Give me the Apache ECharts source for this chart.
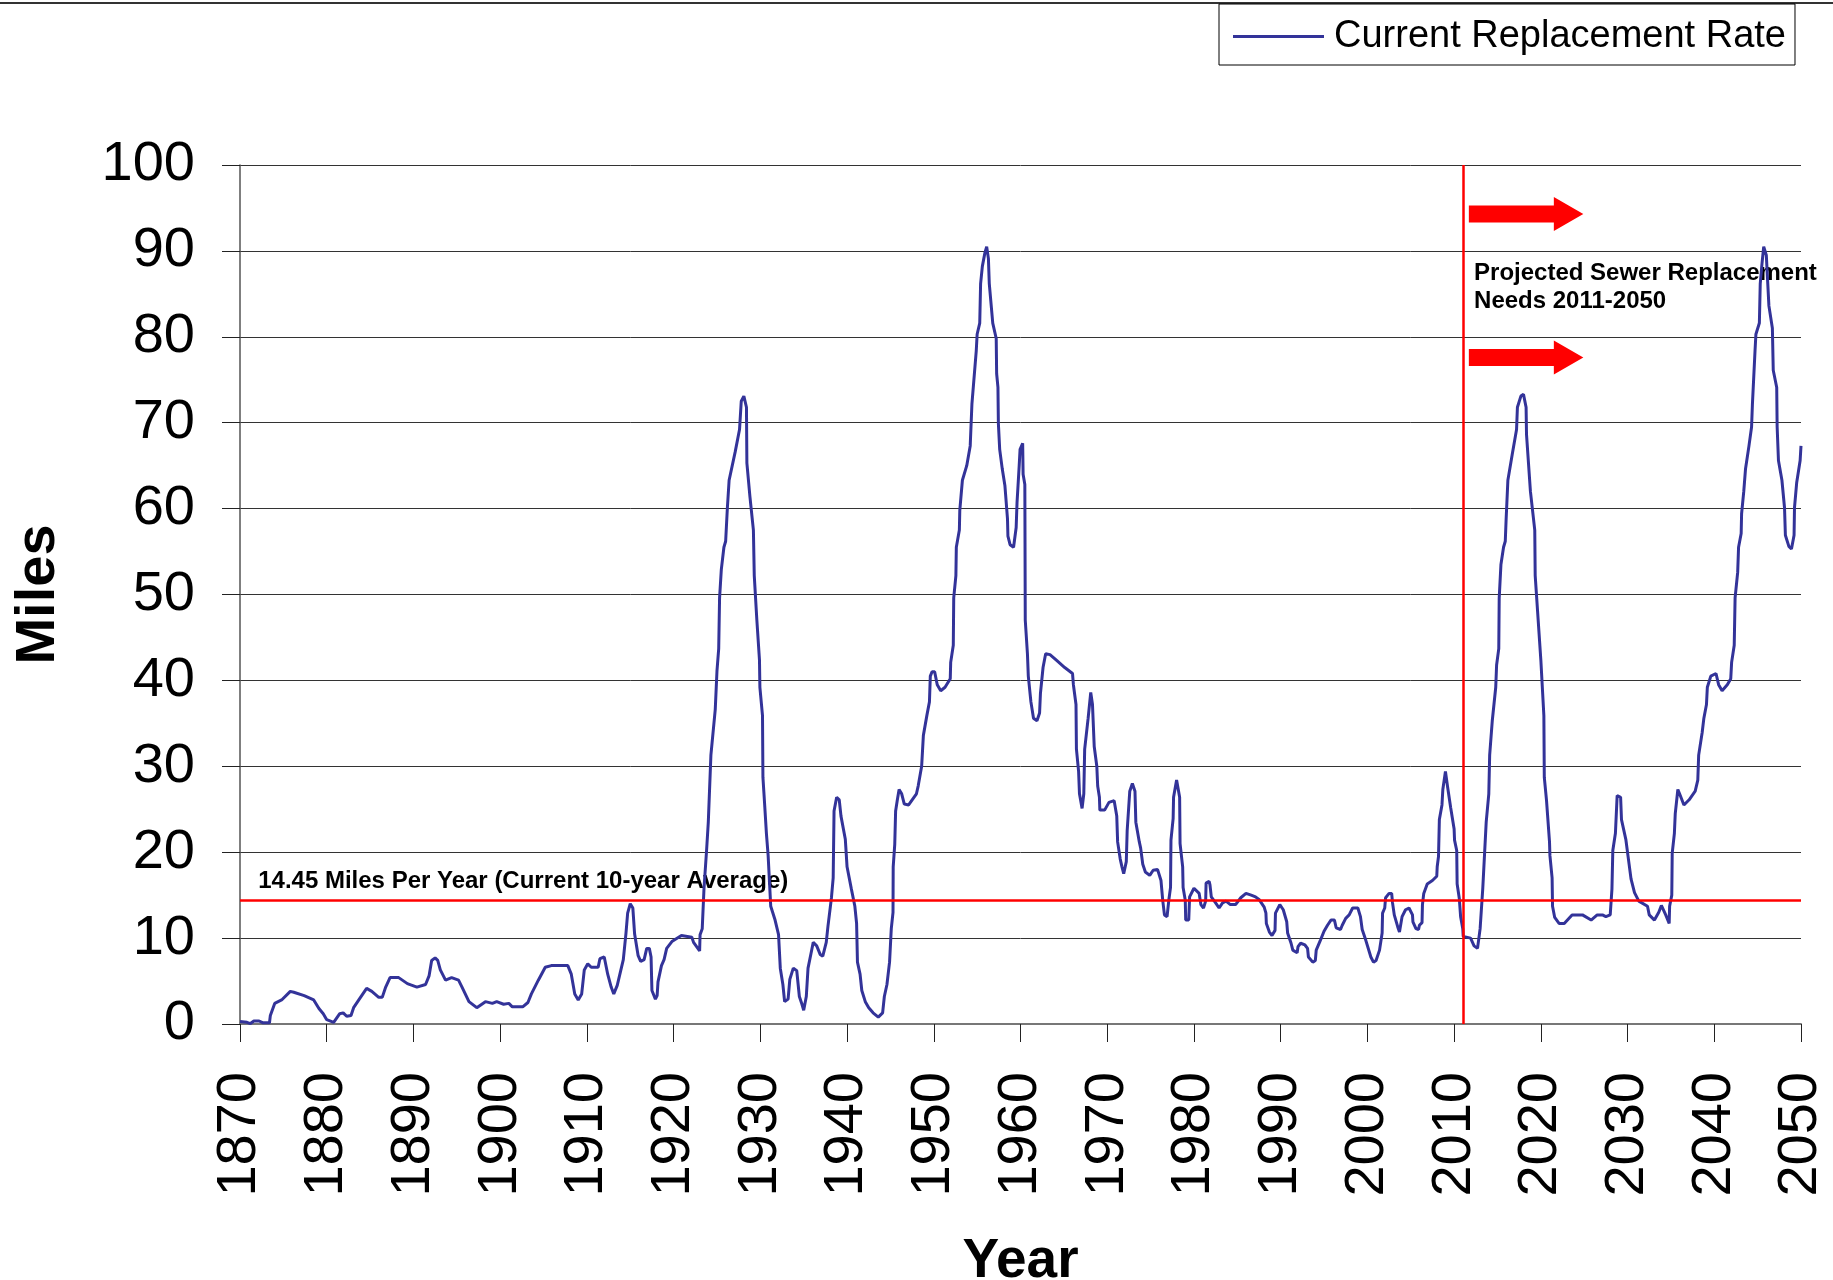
<!DOCTYPE html>
<html><head><meta charset="utf-8">
<script src="https://cdn.jsdelivr.net/npm/echarts@6/dist/echarts.min.js"></script>
<style>html,body{margin:0;padding:0;background:#fff}#c{width:1833px;height:1280px}</style>
</head><body><div id="c"></div>
<script>
// ---- Data (decimal year, miles) ----
const years1870 = [1870.0,1870.8,1871.2,1871.6,1872.2,1872.6,1873.4,1873.5,1874.0,1874.8,1875.8,1876.2,1877.4,1878.5,1879.1,1879.6,1880.0,1880.8,1881.5,1881.9,1882.3,1882.8,1883.1,1883.7,1884.6,1885.2,1886.0,1886.4,1886.8,1887.3,1888.3,1889.3,1890.4,1891.4,1891.8,1892.1,1892.5,1892.8,1893.1,1893.7,1894.4,1895.2,1895.6,1896.4,1897.3,1898.3,1899.1,1899.6,1900.4,1901.0,1901.4,1902.6,1903.2,1903.6,1904.4,1905.2,1905.9,1907.8,1908.2,1908.6,1909.0,1909.4,1909.7,1910.1,1910.5,1911.3,1911.5,1912.0,1912.4,1912.8,1913.1,1913.5,1914.2,1914.5,1914.7,1915.0,1915.3,1915.5,1915.9,1916.2,1916.6,1916.9,1917.2,1917.4,1917.5,1917.9,1918.1,1918.2,1918.6,1918.9,1919.2,1919.8];
const miles1870 = [0.3,0.2,0.05,0.35,0.35,0.15,0.15,1.0,2.4,2.8,3.8,3.7,3.3,2.8,1.8,1.2,0.5,0.2,1.2,1.3,0.9,1.0,1.9,2.8,4.15,3.8,3.1,3.1,4.3,5.4,5.4,4.7,4.3,4.6,5.6,7.4,7.7,7.4,6.3,5.1,5.4,5.1,4.3,2.6,1.9,2.6,2.4,2.6,2.3,2.4,2.0,2.0,2.5,3.5,5.1,6.6,6.8,6.8,5.8,3.5,2.8,3.5,6.3,7.0,6.6,6.6,7.6,7.8,5.8,4.3,3.5,4.5,7.5,10.5,12.9,14.0,13.5,10.5,8.0,7.3,7.5,8.8,8.8,7.8,3.9,2.9,3.3,4.9,6.8,7.5,8.8,9.6];

const years1920 = [1920.9,1922.1,1922.3,1923.0,1923.05,1923.3,1923.5,1923.8,1924.0,1924.3,1924.8,1925.0,1925.2,1925.3,1925.5,1925.8,1926.0,1926.2,1926.4,1927.1,1927.6,1927.8,1928.1,1928.4,1928.45,1928.8,1929.2,1929.3,1929.6,1929.9,1929.95,1930.25,1930.3,1930.5,1930.7,1930.9,1931.2,1931.7,1932.1,1932.3,1932.6,1932.8,1933.2,1933.4,1933.8,1934.2,1934.5,1934.8,1935.0,1935.3,1935.5,1935.9,1936.1,1936.5,1936.9,1937.2,1937.6,1937.8,1938.2,1938.4,1938.5,1938.8,1939.1,1939.3,1939.8,1940.0,1940.5,1940.9,1941.1,1941.2,1941.5,1941.7,1942.1,1942.5,1943.0,1943.6,1944.1,1944.3,1944.6,1944.9,1945.1,1945.3,1945.32,1945.5,1945.6,1945.8,1946.0,1946.3,1946.6,1947.1,1948.0,1948.2,1948.6,1948.8,1949.2,1949.5,1949.6,1949.8,1950.1,1950.4,1950.8,1951.3,1951.9,1951.95,1952.25,1952.3,1952.55,1952.6,1952.95,1953.0,1953.3,1953.8,1954.2,1954.4,1954.9,1955.0,1955.3,1955.4,1955.6,1955.9,1956.1,1956.3,1956.4,1956.8,1957.2,1957.25,1957.4,1957.45,1957.6,1957.9,1958.2,1958.5,1958.55,1958.8,1959.2,1959.5,1959.6,1959.85,1959.95,1960.25,1960.3,1960.5];
const miles1920 = [10.3,10.1,9.5,8.5,10.4,11.1,15.7,20.2,23.5,31.3,36.6,41.1,43.7,49.6,52.9,55.5,56.2,60.1,63.3,66.6,69.2,72.5,73.1,71.8,65.3,61.4,57.5,52.2,47.0,42.4,39.2,35.9,28.7,25.5,22.2,19.6,13.7,12.1,10.4,6.5,4.6,2.6,2.9,5.2,6.5,6.2,3.2,2.3,1.6,3.2,6.5,8.5,9.5,9.1,8.1,7.9,9.5,11.4,14.7,17.0,24.8,26.4,26.1,24.2,21.5,18.3,15.7,13.7,11.7,7.2,5.8,3.9,2.6,1.9,1.3,0.8,1.3,3.2,4.6,7.2,11.1,13.0,18.3,20.9,24.8,26.1,27.3,26.8,25.6,25.5,26.8,27.7,30.0,33.6,35.9,37.5,40.5,41.0,41.0,39.5,38.8,39.2,40.2,42.1,44.1,49.6,52.2,55.5,57.5,59.8,63.3,65.0,67.3,72.2,78.4,80.3,81.6,86.2,88.2,89.8,90.5,89.1,86.2,81.6,79.8,75.7,74.1,69.9,66.9,64.6,62.7,58.8,56.8,55.8,55.5,57.8,60.7,65.0,66.9,67.6,64.0,62.8];

const years1960 = [1960.55,1960.8,1960.9,1961.2,1961.5,1961.9,1962.2,1962.3,1962.6,1962.9,1963.4,1964.2,1965.1,1966.0,1966.1,1966.4,1966.45,1966.7,1966.8,1967.1,1967.3,1967.4,1967.8,1968.1,1968.3,1968.5,1968.8,1968.9,1969.1,1969.15,1969.7,1970.2,1970.8,1971.1,1971.2,1971.5,1971.7,1971.9,1972.2,1972.3,1972.6,1972.9,1973.2,1973.3,1973.7,1973.85,1974.1,1974.4,1974.9,1975.3,1975.8,1976.2,1976.4,1976.6,1976.9,1977.1,1977.3,1977.35,1977.6,1977.65,1978.0,1978.35,1978.4,1978.7,1978.75,1979.0,1979.05,1979.4,1979.5,1980.0,1980.6,1980.8,1981.1,1981.35,1981.4,1981.75,1981.85,1982.0,1982.5,1982.9,1983.3,1983.7,1984.2,1984.8,1985.4,1986.0,1986.6,1987.1,1987.5,1988.1,1988.3,1988.35,1988.7,1989.0,1989.35,1989.4,1989.9,1990.3,1990.7,1990.8,1991.2,1991.4,1991.9,1992.0,1992.3,1992.8,1993.1,1993.2,1993.7,1994.0,1994.1,1994.6,1995.0,1995.4,1995.8,1996.2,1996.4,1996.9,1997.1,1997.5,1997.9,1998.3,1998.9,1999.2,1999.4,1999.8,2000.4,2000.7,2001.0,2001.4,2001.7,2001.75,2002.0,2002.1,2002.5,2002.8,2002.9,2003.1,2003.5,2003.7,2004.0,2004.4,2004.8,2005.2,2005.25,2005.6,2005.9,2006.0,2006.3,2006.35,2006.5,2006.9,2007.5,2008.0,2008.05,2008.2,2008.3,2008.6,2008.7,2009.0,2009.2,2009.25,2009.6,2010.0,2010.05,2010.3,2010.35,2010.6,2010.75,2011.0,2011.05,2011.9];
const miles1960 = [47.0,43.1,40.5,37.5,35.6,35.3,36.2,38.5,41.5,43.1,43.0,42.3,41.5,40.8,39.5,37.2,32.0,29.4,26.8,25.1,26.8,32.0,35.6,38.6,37.2,32.3,30.0,27.7,26.4,24.9,24.9,25.8,26.0,24.2,21.2,19.2,18.3,17.5,18.9,22.5,27.1,28.0,27.1,23.5,21.2,20.5,18.6,17.7,17.3,17.9,18.0,16.7,14.4,12.7,12.5,14.4,15.9,21.4,23.9,26.4,28.4,26.4,21.0,18.3,15.9,14.4,12.1,12.1,14.8,15.8,15.2,13.9,13.5,14.3,16.4,16.6,16.2,14.8,14.1,13.5,14.1,14.3,13.9,13.9,14.7,15.2,15.0,14.8,14.5,13.6,12.9,11.7,10.7,10.3,10.9,12.9,13.9,13.3,11.9,10.6,9.4,8.6,8.3,9.0,9.4,9.2,8.8,7.8,7.2,7.4,8.6,9.8,10.8,11.5,12.1,12.1,11.2,11.0,11.5,12.3,12.7,13.5,13.5,12.5,11.0,9.8,7.8,7.2,7.4,8.6,10.6,12.9,13.5,14.7,15.2,15.2,14.1,12.7,11.3,10.7,12.5,13.3,13.5,12.7,11.9,11.1,11.0,11.5,11.8,13.9,15.2,16.3,16.7,17.2,18.3,19.5,23.8,25.5,27.3,29.4,29.2,27.6,25.2,22.7,21.4,20.2,16.3,14.6,12.5,11.1,10.2,10.0];

// Projected sewer replacement needs 2011-2050
const yearsProjected = [2012.3,2012.7,2013.0,2013.3,2013.5,2013.7,2014.0,2014.1,2014.4,2014.8,2014.9,2015.15,2015.2,2015.4,2015.7,2015.9,2016.0,2016.2,2016.7,2017.2,2017.3,2017.7,2018.0,2018.3,2018.35,2018.8,2019.3,2019.35,2020.0,2020.35,2020.4,2020.65,2021.0,2021.05,2021.3,2021.35,2021.6,2022.1,2022.7,2023.6,2024.8,2025.8,2026.5,2027.1,2027.5,2028.0,2028.2,2028.3,2028.6,2028.8,2029.2,2029.3,2029.8,2030.1,2030.4,2030.8,2031.3,2032.3,2032.5,2033.1,2033.6,2033.9,2034.1,2034.4,2034.8,2034.85,2035.1,2035.15,2035.4,2035.5,2035.8,2036.0,2036.5,2037.1,2037.8,2038.1,2038.2,2038.6,2038.8,2039.1,2039.2,2039.6,2040.2,2040.5,2040.9,2041.5,2041.9,2042.0,2042.3,2042.4,2042.7,2042.8,2043.1,2043.15,2043.4,2043.6,2044.0,2044.3,2044.4,2044.7,2044.8,2045.2,2045.3,2045.5,2045.7,2046.0,2046.3,2046.7,2046.8,2047.2,2047.25,2047.4,2047.8,2048.1,2048.2,2048.6,2048.9,2049.2,2049.25,2049.5,2049.9,2050.0];
const milesProjected = [9.1,8.8,11.1,15.7,19.6,23.5,26.8,31.3,35.3,39.2,41.8,43.7,49.6,53.5,55.5,56.2,58.8,63.3,66.3,69.2,71.8,73.1,73.3,71.8,68.6,62.0,57.5,52.2,42.4,35.9,28.7,26.1,21.2,19.6,17.0,13.7,12.4,11.7,11.7,12.7,12.7,12.1,12.7,12.7,12.5,12.7,15.7,20.2,22.2,26.6,26.4,23.8,21.5,19.2,16.9,15.3,14.3,13.7,12.7,12.1,13.0,13.8,13.7,12.7,11.7,13.7,15.0,19.9,22.2,24.5,27.3,26.8,25.5,26.1,27.1,28.4,31.3,33.9,35.6,37.2,39.2,40.5,40.8,39.5,38.8,39.5,40.2,42.1,44.1,49.6,52.6,55.5,57.1,59.4,62.0,64.6,67.3,69.5,72.2,78.4,80.3,81.6,86.2,88.5,90.5,89.5,83.6,81.0,76.1,74.1,69.5,65.6,63.3,60.1,56.9,55.6,55.3,56.9,60.1,63.0,65.6,67.3];

const averageRate = 14.45;      // miles per year, current 10-year average
const projectionStart = 2011;
const xMin = 1870, xMax = 2050, xStep = 10;
const yMin = 0, yMax = 100, yStep = 10;
const seriesName = 'Current Replacement Rate';
const avgLabel = '14.45 Miles Per Year (Current 10-year Average)';
const projLabel1 = 'Projected Sewer Replacement';
const projLabel2 = 'Needs 2011-2050';

// ---- Build ----
const allYears = [].concat(years1870, years1920, years1960, yearsProjected);
const allMiles = [].concat(miles1870, miles1920, miles1960, milesProjected);
const data = allYears.map((y, i) => [y, allMiles[i]]);

const FONT = '"Liberation Sans", Arial, Helvetica, sans-serif';
const chart = echarts.init(document.getElementById('c'), null, {renderer: 'canvas'});

chart.setOption({
  animation: false,
  backgroundColor: '#ffffff',
  textStyle: {fontFamily: FONT},
  grid: {left: 240, right: 32, top: 165, bottom: 256, containLabel: false, outerBoundsMode: 'none'},
  legend: {
    left: 1219, top: 4,
    padding: [12, 9, 8, 14],
    itemWidth: 91, itemHeight: 3, icon: 'rect',
    borderColor: '#000', borderWidth: 1,
    textStyle: {fontSize: 38, fontFamily: FONT, color: '#000', padding: [0, 0, 0, 5], lineHeight: 41},
    data: [seriesName]
  },
  xAxis: {
    type: 'value', min: xMin, max: xMax, interval: xStep,
    name: 'Year', nameLocation: 'middle', nameGap: 210,
    nameTextStyle: {fontSize: 55, fontWeight: 'bold', color: '#000', fontFamily: FONT},
    axisLine: {show: true, onZero: false, lineStyle: {color: '#777', width: 2}},
    axisTick: {show: true, length: 18, lineStyle: {color: '#222', width: 1}},
    axisLabel: {rotate: 90, fontSize: 56, color: '#000', margin: 48, fontFamily: FONT,
                showMinLabel: true, showMaxLabel: true,
                formatter: function (v) { return String(Math.round(v)); }},
    splitLine: {show: false}
  },
  yAxis: {
    type: 'value', min: yMin, max: yMax, interval: yStep,
    name: 'Miles', nameLocation: 'middle', nameGap: 173, nameRotate: 90,
    nameTextStyle: {fontSize: 56, fontWeight: 'bold', color: '#000', fontFamily: FONT},
    axisLine: {show: true, lineStyle: {color: '#555', width: 1.5}},
    axisTick: {show: true, length: 18, lineStyle: {color: '#222', width: 1}},
    axisLabel: {fontSize: 56, color: '#000', margin: 45, fontFamily: FONT},
    splitLine: {show: true, lineStyle: {color: '#333', width: 1}}
  },
  series: [{
    name: seriesName, type: 'line', data: data,
    showSymbol: false, symbol: 'none', smooth: false,
    lineStyle: {color: '#333399', width: 3},
    itemStyle: {color: '#333399'},
    markLine: {
      silent: true, symbol: ['none', 'none'],
      label: {show: false},
      lineStyle: {color: '#ff0000', width: 2.5, type: 'solid'},
      emphasis: {disabled: true},
      data: [{yAxis: averageRate}, {xAxis: projectionStart}]
    }
  }]
});

function px(x, y) { return chart.convertToPixel({gridIndex: 0}, [x, y]); }

function arrow(x0, x1, x2, yv) {
  const a = px(x0, yv), b = px(x1, yv), c = px(x2, yv);
  const y = a[1], hs = 8.5, hh = 17;
  return {type: 'polygon', silent: true,
    shape: {points: [[a[0], y - hs], [b[0], y - hs], [b[0], y - hh], [c[0], y], [b[0], y + hh], [b[0], y + hs], [a[0], y + hs]]},
    style: {fill: '#ff0000'}};
}

const pAvg = px(1872.1, averageRate);
const pProj1 = px(2012.3, 87.4);
const pProj2 = px(2012.3, 84.1);

chart.setOption({
  graphic: [
    {type: 'line', silent: true, shape: {x1: 0, y1: 3, x2: 1833, y2: 3}, style: {stroke: '#333', lineWidth: 2}},
    {type: 'text', silent: true, x: pAvg[0], y: pAvg[1] - 18,
      style: {text: avgLabel, font: 'bold 24px ' + FONT, fill: '#000', textAlign: 'left', textVerticalAlign: 'middle'}},
    {type: 'text', silent: true, x: pProj1[0], y: pProj1[1],
      style: {text: projLabel1, font: 'bold 24px ' + FONT, fill: '#000', textAlign: 'left', textVerticalAlign: 'middle'}},
    {type: 'text', silent: true, x: pProj2[0], y: pProj2[1],
      style: {text: projLabel2, font: 'bold 24px ' + FONT, fill: '#000', textAlign: 'left', textVerticalAlign: 'middle'}},
    arrow(2011.7, 2021.5, 2024.9, 94.3),
    arrow(2011.7, 2021.5, 2024.9, 77.6)
  ]
});
</script>
</body></html>
